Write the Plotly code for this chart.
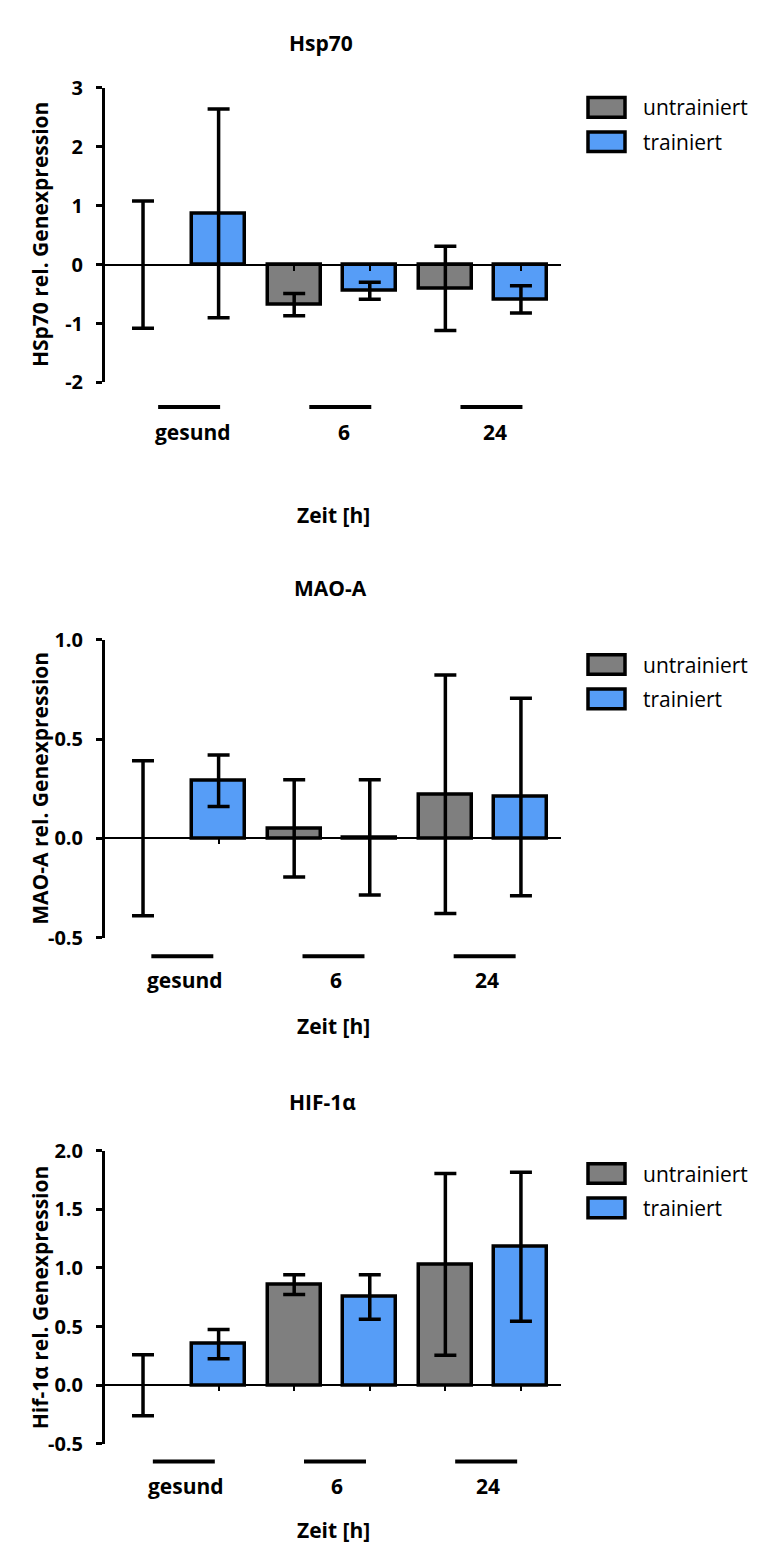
import plotly.graph_objects as go

# ---------------- data ----------------
groups = ["gesund", "6", "24"]
series_names = ["untrainiert", "trainiert"]

hsp70_untrainiert = [0.0, -0.68, -0.405]
hsp70_untrainiert_err = [1.08, 0.19, 0.715]
hsp70_trainiert = [0.87, -0.445, -0.59]
hsp70_trainiert_err = [1.77, 0.145, 0.23]

mao_untrainiert = [0.0, 0.05, 0.222]
mao_untrainiert_err = [0.39, 0.245, 0.60]
mao_trainiert = [0.29, 0.005, 0.208]
mao_trainiert_err = [0.13, 0.29, 0.497]

hif_untrainiert = [0.0, 0.857, 1.03]
hif_untrainiert_err = [0.26, 0.085, 0.775]
hif_trainiert = [0.35, 0.752, 1.18]
hif_trainiert_err = [0.125, 0.19, 0.635]

hsp70_tickvals = [-2, -1, 0, 1, 2, 3]
hsp70_ticktext = ["-2", "-1", "0", "1", "2", "3"]
mao_tickvals = [-0.5, 0.0, 0.5, 1.0]
mao_ticktext = ["-0.5", "0.0", "0.5", "1.0"]
hif_tickvals = [-0.5, 0.0, 0.5, 1.0, 1.5, 2.0]
hif_ticktext = ["-0.5", "0.0", "0.5", "1.0", "1.5", "2.0"]

titles = ["Hsp70", "MAO-A", "HIF-1α"]
ytitles = ["HSp70 rel. Genexpression", "MAO-A rel. Genexpression", "Hif-1α rel. Genexpression"]
xtitle = "Zeit [h]"

# ---------------- styling ----------------
W, H = 758, 1557
GRAY = "#7f7f7f"
BLUE = "#569df7"
colors = [GRAY, BLUE]
FONT = "Open Sans"
BOLD = dict(family=FONT, size=20, color="black", weight="bold")
BOLD_L = dict(family=FONT, size=21, color="black", weight="bold")


def fx(p):
    return p / W


def fy(p):
    return 1 - p / H


panels = [
    dict(title=titles[0], ytitle=ytitles[0], data=[(hsp70_untrainiert, hsp70_untrainiert_err), (hsp70_trainiert, hsp70_trainiert_err)],
         yrange=[-2, 3], tickvals=hsp70_tickvals, ticktext=hsp70_ticktext,
         top=75, bottom=375, title_xy=(321, 30), legend_y=(95, 130),
         line_off=25, label_off=50, xtitle_off=135, line_shift=0.61, label_shift=0.66),
    dict(title=titles[1], ytitle=ytitles[1], data=[(mao_untrainiert, mao_untrainiert_err), (mao_trainiert, mao_trainiert_err)],
         yrange=[-0.5, 1.0], tickvals=mao_tickvals, ticktext=mao_ticktext,
         top=636.7, bottom=940, title_xy=(330, 584), legend_y=(662, 697),
         line_off=19, label_off=43, xtitle_off=90, line_shift=0.52, label_shift=0.55),
    dict(title=titles[2], ytitle=ytitles[2], data=[(hif_untrainiert, hif_untrainiert_err), (hif_trainiert, hif_trainiert_err)],
         yrange=[-0.5, 2.0], tickvals=hif_tickvals, ticktext=hif_ticktext,
         top=1156.7, bottom=1455, title_xy=(322, 1107), legend_y=(1180, 1215),
         line_off=18, label_off=43, xtitle_off=88, line_shift=0.54, label_shift=0.57),
]

XL, XR = 105, 561
XRANGE = [-0.503, 5.53]
BAR_W = 0.70

fig = go.Figure()
shapes = []
annotations = []
layout_axes = {}

for i, p in enumerate(panels):
    n = "" if i == 0 else str(i + 1)
    xa, ya = "x" + n, "y" + n
    for s, (vals, errs) in enumerate(p["data"]):
        xs = [2 * g + s for g in range(len(groups))]
        fig.add_trace(go.Bar(
            x=xs, y=vals, width=BAR_W, name=series_names[s], showlegend=False,
            marker=dict(color=colors[s], line=dict(color="black", width=[0 if v == 0 else 3.5 for v in vals])),
            error_y=dict(type="data", array=errs, visible=True, color="black", thickness=3.5, width=11),
            xaxis=xa, yaxis=ya,
        ))
    d0, d1 = fy(p["bottom"]), fy(p["top"])
    r0, r1 = p["yrange"]
    zero_pos = d0 + (0 - r0) / (r1 - r0) * (d1 - d0)
    layout_axes["xaxis" + n] = dict(
        domain=[fx(XL), fx(XR)], range=XRANGE, anchor="free", position=zero_pos,
        showline=True, linecolor="black", linewidth=2, ticks="outside", ticklen=5, tickwidth=2,
        tickcolor="black", tickvals=[k for k in range(2 * len(groups))], showticklabels=False,
        showgrid=False, zeroline=False, fixedrange=True,
    )
    layout_axes["yaxis" + n] = dict(
        domain=[d0, d1], range=p["yrange"], anchor=xa,
        showline=True, linecolor="black", linewidth=3, ticks="outside", ticklen=6, tickwidth=3,
        tickcolor="black", tickvals=p["tickvals"], ticktext=p["ticktext"],
        tickfont=dict(family=FONT, size=20, color="black", weight="bold"), ticklabelstandoff=9,
        showgrid=False, zeroline=False, fixedrange=True,
    )
    annotations.append(dict(text=p["title"], x=fx(p["title_xy"][0]), y=fy(p["title_xy"][1]), xref="paper", yref="paper",
                            showarrow=False, xanchor="center", yanchor="middle", font=BOLD_L))
    annotations.append(dict(text=p["ytitle"], x=fx(40), y=(d0 + d1) / 2, xref="paper", yref="paper", textangle=-90,
                            showarrow=False, xanchor="center", yanchor="middle", font=BOLD_L))
    for g, lab in enumerate(groups):
        xc = 2 * g + p["line_shift"]
        shapes.append(dict(type="line", xref=xa, yref="paper", x0=xc - 0.41, x1=xc + 0.41,
                           y0=fy(p["bottom"] + p["line_off"]), y1=fy(p["bottom"] + p["line_off"]),
                           line=dict(color="black", width=4)))
        annotations.append(dict(text=lab, x=2 * g + p["label_shift"], y=fy(p["bottom"] + p["label_off"]), xref=xa, yref="paper",
                                showarrow=False, xanchor="center", yanchor="middle", font=BOLD_L))
    annotations.append(dict(text=xtitle, x=fx((XL + XR) / 2), y=fy(p["bottom"] + p["xtitle_off"]), xref="paper", yref="paper",
                            showarrow=False, xanchor="center", yanchor="middle", font=BOLD_L))
    for s, yc in enumerate(p["legend_y"]):
        shapes.append(dict(type="rect", xref="paper", yref="paper", x0=fx(588), x1=fx(625), y0=fy(yc + 10), y1=fy(yc - 10),
                           fillcolor=colors[s], line=dict(color="black", width=3.5)))
        annotations.append(dict(text=series_names[s], x=fx(641), y=fy(yc), xref="paper", yref="paper",
                                showarrow=False, xanchor="left", yanchor="middle",
                                font=dict(family=FONT, size=21, color="black")))

fig.update_layout(
    width=W, height=H, margin=dict(l=0, r=0, t=0, b=0),
    paper_bgcolor="white", plot_bgcolor="white", showlegend=False,
    bargap=0, shapes=shapes, annotations=annotations, **layout_axes,
)

fig.write_html("out.html")
